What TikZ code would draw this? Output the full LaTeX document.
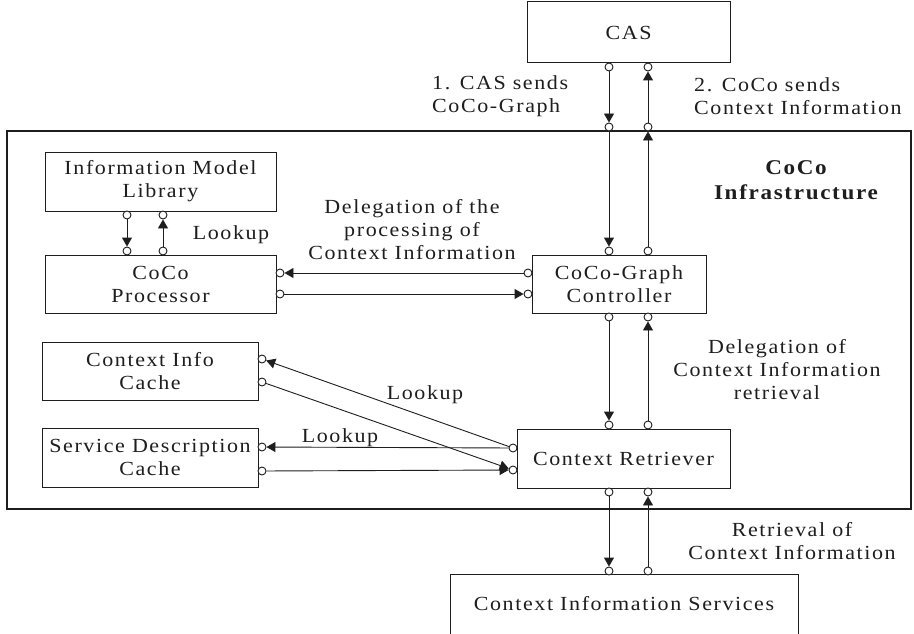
\documentclass[tikz,border=0pt]{standalone}
\usepackage{fontspec}
\setmainfont{Liberation Serif}[LetterSpace=8,FakeStretch=1.1]
\usetikzlibrary{arrows.meta}
\definecolor{ink}{HTML}{1E1E1E}
\begin{document}
\begin{tikzpicture}[x=1pt,y=-1pt,
  every node/.style={text=ink},
  box/.style={draw=ink,line width=1pt,inner sep=0pt,align=center,
    font=\fontsize{20}{23}\selectfont},
  port/.style={draw=ink,fill=white,circle,line width=0.9pt,minimum size=8pt,inner sep=0pt},
  arr/.style={draw=ink,line width=0.9pt,-{Triangle[length=9pt,width=10pt]}},
  lbl/.style={inner sep=0pt,align=center,font=\fontsize{20}{23}\selectfont},
  lbll/.style={inner sep=0pt,align=left,font=\fontsize{20}{23}\selectfont}]
\useasboundingbox (0,0) rectangle (914,634);
\fill[white] (0,0) rectangle (914,634);

% infrastructure frame
\draw[ink,line width=1.2pt] (7,131) rectangle (911,509);

% boxes
\node[box,minimum width=203pt,minimum height=61pt] (cas) at (628.5,32.5) {CAS};
\node[box,minimum width=231pt,minimum height=59pt] (iml) at (160.5,181.5) {Information Model\\Library};
\node[box,minimum width=231pt,minimum height=58pt] (proc) at (160.5,284) {CoCo\\Processor};
\node[box,minimum width=174pt,minimum height=58pt] (ctrl) at (619,284) {CoCo-Graph\\Controller};
\node[box,minimum width=216pt,minimum height=58pt] (cic) at (150,371) {Context Info\\Cache};
\node[box,minimum width=216pt,minimum height=59pt] (sdc) at (150,457.5) {Service Description\\Cache};
\node[box,minimum width=213pt,minimum height=59pt] (retr) at (623.5,458.5) {Context Retriever};
\node[box,minimum width=348pt,minimum height=60pt] (cis) at (624,604) {Context Information Services};

% ports
\node[port] (cas1) at (609,67) {};
\node[port] (cas2) at (648,67) {};
\node[port] (inf1) at (609,127) {};
\node[port] (inf2) at (648,127) {};
\node[port] (ct1) at (609,251) {};
\node[port] (ct2) at (648,251) {};
\node[port] (cb1) at (609,317) {};
\node[port] (cb2) at (648,317) {};
\node[port] (cl1) at (528,273) {};
\node[port] (cl2) at (528,294) {};
\node[port] (iml1) at (127,215) {};
\node[port] (iml2) at (163,215) {};
\node[port] (pt1) at (127,251) {};
\node[port] (pt2) at (163,251) {};
\node[port] (pr1) at (280,273) {};
\node[port] (pr2) at (280,294) {};
\node[port] (cic1) at (262,359) {};
\node[port] (cic2) at (262,382) {};
\node[port] (sdc1) at (262,447) {};
\node[port] (sdc2) at (262,471) {};
\node[port] (rl1) at (513,448) {};
\node[port] (rl2) at (513,470) {};
\node[port] (rt1) at (609,425) {};
\node[port] (rt2) at (648,425) {};
\node[port] (rb1) at (609,492) {};
\node[port] (rb2) at (648,492) {};
\node[port] (cis1) at (609,571) {};
\node[port] (cis2) at (648,571) {};

% connectors
\draw[arr] (cas1) -- (inf1);
\draw[arr] (inf1) -- (ct1);
\draw[arr] (ct2) -- (inf2);
\draw[arr] (inf2) -- (cas2);
\draw[arr] (iml1) -- (pt1);
\draw[arr] (pt2) -- (iml2);
\draw[arr] (cl1) -- (pr1);
\draw[arr] (pr2) -- (cl2);
\draw[arr] (cb1) -- (rt1);
\draw[arr] (rt2) -- (cb2);
\draw[arr] (rl1) -- (cic1);
\draw[arr] (cic2) -- (rl2);
\draw[arr] (rl1) -- (sdc1);
\draw[arr] (sdc2) -- (rl2);
\draw[arr] (rb1) -- (cis1);
\draw[arr] (cis2) -- (rb2);

% labels
\node[lbll,anchor=west] (l1) at (432,96) {1. CAS sends\\CoCo-Graph};
\node[lbll,anchor=west] (l2) at (694,96) {2. CoCo sends\\Context Information};
\node[inner sep=0pt,align=center,font=\fontsize{21}{25}\selectfont\bfseries] (infl) at (796,180) {CoCo\\Infrastructure};
\node[lbl] (lk1) at (231,235) {Lookup};
\node[lbl] (dp) at (412,230) {Delegation of the\\processing of\\Context Information};
\node[lbl] (dr) at (777,370) {Delegation of\\Context Information\\retrieval};
\node[lbl] (lk2) at (425,395) {Lookup};
\node[lbl] (lk3) at (340,438) {Lookup};
\node[lbl] (rv) at (792,541) {Retrieval of\\Context Information};
\end{tikzpicture}
\end{document}
